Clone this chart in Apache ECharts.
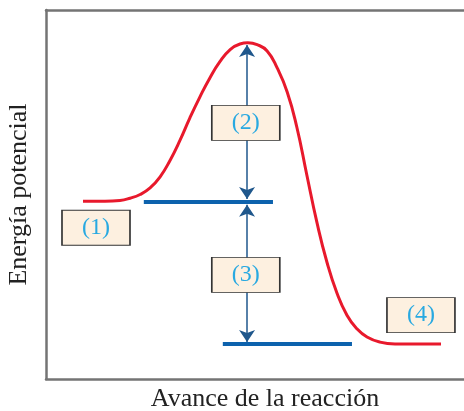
<!DOCTYPE html>
<html>
<head>
<meta charset="utf-8">
<script src="https://cdn.jsdelivr.net/npm/echarts@6/dist/echarts.min.js"></script>
<style>html,body{margin:0;padding:0;background:#fff;}#c{width:464px;height:411px;}</style>
</head>
<body>
<div id="c"></div>
<script>
// Reaction progress (x, 0-100) and potential energy (y, 0-100)
var curveX = [8.85, 14.1, 17.7, 20.1, 22.5, 24.9, 27.3, 29.7, 32.1, 34.4, 36.8, 39.2, 41.6, 44.0, 46.4, 48.3, 50.5, 52.9, 55.3, 57.7, 60.0, 62.4, 64.8, 67.2, 69.6, 72.0, 74.4, 76.8, 79.9, 83.5, 94.5];
var curveY = [48.2, 48.2, 48.4, 49.0, 50.0, 51.8, 54.8, 59.3, 64.8, 70.7, 76.4, 81.6, 86.0, 89.2, 90.8, 91.1, 90.6, 88.9, 84.3, 77.8, 68.3, 55.3, 42.5, 31.7, 23.3, 17.3, 13.6, 11.4, 10.0, 9.5, 9.5];
// Energy levels: [xStart, xEnd, energy]
var reactantLevel = [23.4, 54.3, 48.0];
var productLevel = [42.3, 73.2, 9.5];
// Arrows: [x, yFrom, yTo]
var arrowX = 48.1;
var arrow1 = [48.8, 90.5];
var arrow2 = [47.2, 10.0];
// Labels
var labelNames = ['(1)', '(2)', '(3)', '(4)'];
var labelX = [11.96, 47.8, 47.8, 89.7];
var labelY = [41.0, 69.4, 28.2, 17.3];

var curve = curveX.map(function (x, i) { return [x, curveY[i]]; });
var labels = labelNames.map(function (n, i) { return { name: n, value: [labelX[i], labelY[i]] }; });

var serif = '"Liberation Serif", "DejaVu Serif", serif';
var chart = echarts.init(document.getElementById('c'));
chart.setOption({
  animation: false,
  grid: { left: 46, right: 0, top: 10, bottom: 32, containLabel: false, outerBoundsMode: 'none' },
  xAxis: [{
    type: 'value', min: 0, max: 100, position: 'bottom',
    name: 'Avance de la reacción', nameLocation: 'middle', nameGap: 7,
    nameTextStyle: { fontFamily: serif, fontSize: 26, color: '#222', verticalAlign: 'top', padding: [0, 0, 0, 20] },
    axisLine: { show: true, onZero: false, lineStyle: { color: '#747474', width: 2.5 } },
    axisTick: { show: false }, axisLabel: { show: false }, splitLine: { show: false }
  }, {
    type: 'value', min: 0, max: 100, position: 'top',
    axisLine: { show: true, onZero: false, lineStyle: { color: '#747474', width: 2.5 } },
    axisTick: { show: false }, axisLabel: { show: false }, splitLine: { show: false }
  }],
  yAxis: {
    type: 'value', min: 0, max: 100, position: 'left',
    name: 'Energía potencial', nameLocation: 'middle', nameGap: 14, nameRotate: 90,
    nameTextStyle: { fontFamily: serif, fontSize: 26, color: '#222' },
    axisLine: { show: true, onZero: false, lineStyle: { color: '#747474', width: 2.5 } },
    axisTick: { show: false }, axisLabel: { show: false }, splitLine: { show: false }
  },
  series: [{
    type: 'line', data: curve, smooth: 0.5, showSymbol: false, symbol: 'none',
    lineStyle: { color: '#e8192c', width: 3 }, z: 3
  }, {
    type: 'lines', coordinateSystem: 'cartesian2d',
    data: [
      { coords: [[reactantLevel[0], reactantLevel[2]], [reactantLevel[1], reactantLevel[2]]] },
      { coords: [[productLevel[0], productLevel[2]], [productLevel[1], productLevel[2]]] }
    ],
    symbol: 'none',
    lineStyle: { color: '#0d62ad', width: 4, opacity: 1 }, z: 4
  }, {
    type: 'lines', coordinateSystem: 'cartesian2d',
    data: [
      { coords: [[arrowX, arrow1[0]], [arrowX, arrow1[1]]] },
      { coords: [[arrowX, arrow2[0]], [arrowX, arrow2[1]]] }
    ],
    symbol: ['arrow', 'arrow'], symbolSize: 12,
    lineStyle: { color: '#1f578c', width: 1.5, opacity: 1 }, z: 5
  }, {
    type: 'scatter', data: labels, symbol: 'rect', symbolSize: [68, 35],
    itemStyle: { color: '#fdf0e0', borderColor: '#333', borderWidth: 1.2, opacity: 1 },
    label: {
      show: true, position: 'inside', formatter: '{b}',
      fontFamily: serif, fontSize: 24, color: '#29a9e1'
    },
    z: 10
  }]
});
</script>
</body>
</html>
